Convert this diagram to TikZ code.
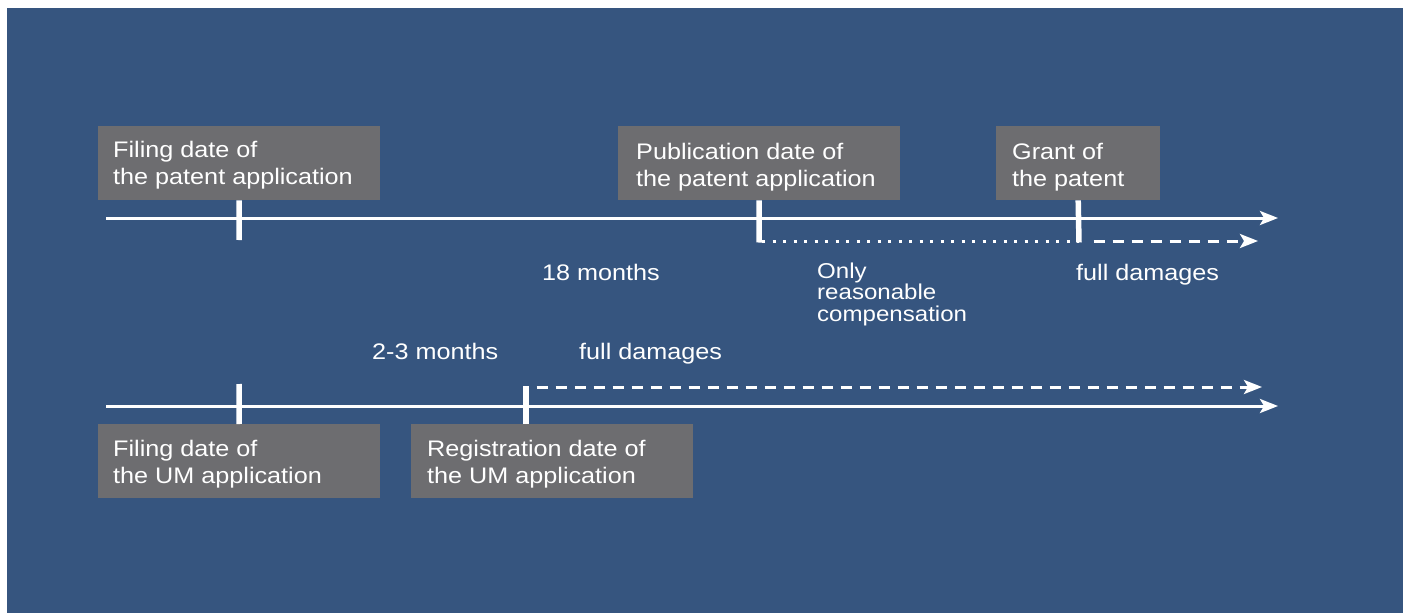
\documentclass[tikz,border=0pt]{standalone}
\usepackage{fontspec}
\setmainfont{Liberation Sans}[FakeStretch=1.12]
\usetikzlibrary{arrows.meta}
\definecolor{panelblue}{HTML}{36557F}
\definecolor{boxgray}{HTML}{6D6D70}
% stacked left-aligned lines; baseline of the block is that of the first line
\newcommand\linestack[1]{\vtop{\halign{##\hfil\cr#1\crcr}}}
\begin{document}
\begin{tikzpicture}[x=1pt,y=-1pt,
  box/.style={fill=boxgray, draw=none, anchor=north west, inner sep=0pt, minimum height=74pt},
  lbl/.style={text=white, anchor=base west, inner sep=0pt, font=\fontsize{22.5}{27}\selectfont},
  tightlbl/.style={lbl, font=\fontsize{21.5}{21.5}\selectfont},
  tip/.style={-{Stealth[length=18pt,width=14pt,inset=4pt]}},
  axisline/.style={draw=white, line width=3pt, tip},
  tickmark/.style={draw=white, line width=5.5pt},
  dashline/.style={draw=white, line width=3pt, dash pattern=on 11.5pt off 7.5pt, dash phase=11.5pt, tip},
  dotline/.style={draw=white, line width=3pt, dash pattern=on 3pt off 7.5pt},
]
\useasboundingbox (0,0) rectangle (1403,613);
\fill[panelblue] (7,8) rectangle (1403,613);

% ---- patent timeline ----
\node[box, minimum width=282pt] (filepat) at (98,126) {};
\node[box, minimum width=282pt] (pubpat)  at (618,126) {};
\node[box, minimum width=164pt] (grant)   at (996,126) {};
\node[lbl] (filepatt) at ([shift={(15,31)}]filepat.north west) {\linestack{Filing date of\cr the patent application}};
\node[lbl] (pubpatt)  at ([shift={(18,33)}]pubpat.north west)  {\linestack{Publication date of\cr the patent application}};
\node[lbl] (grantt)   at ([shift={(16,33)}]grant.north west)   {\linestack{Grant of\cr the patent}};

\coordinate (pa0) at (106,218);
\coordinate (pa1) at (1278,218);
\draw[axisline] (pa0) -- (pa1);

\coordinate (pt1) at (239,240);
\coordinate (pt2) at (759,242.5);
\coordinate (pt3) at (1079,242.5);
\draw[tickmark] (filepat.south) -- (pt1);
\draw[tickmark] (pubpat.south) -- (pt2);
\draw[tickmark] (grant.south) -- (pt3);

\coordinate (dot0) at (762,241);
\coordinate (dot1) at (1079,241);
\coordinate (dsh0) at (1086,241);
\coordinate (dsh1) at (1258,241);
\draw[dotline] (dot0) -- (dot1);
\draw[dashline] (dsh0) -- (dsh1);

\node[lbl] (m18) at (542,280) {18 months};
\node[tightlbl] (rc) at (817,278) {\linestack{Only\cr reasonable\cr compensation}};
\node[lbl] (fd1) at (1076,280) {full damages};

% ---- utility model timeline ----
\node[lbl] (m23) at (372,359) {2-3 months};
\node[lbl] (fd2) at (579,359) {full damages};

\coordinate (ua0) at (106,406);
\coordinate (ua1) at (1278,406);
\draw[axisline] (ua0) -- (ua1);

\node[box, minimum width=282pt] (fileum) at (98,424) {};
\node[box, minimum width=282pt] (regum)  at (411,424) {};
\node[lbl] (fileumt) at ([shift={(15,32)}]fileum.north west) {\linestack{Filing date of\cr the UM application}};
\node[lbl] (regumt)  at ([shift={(16,32)}]regum.north west)  {\linestack{Registration date of\cr the UM application}};

\coordinate (ut1) at (239,384);
\coordinate (ut2) at (526,385.5);
\coordinate (ut2b) at (526,424);
\draw[tickmark] (fileum.north) -- (ut1);
\draw[tickmark] (ut2b) -- (ut2);

\coordinate (ud0) at (529,387);
\coordinate (ud1) at (1262,387);
\draw[dashline] (ud0) -- (ud1);
\end{tikzpicture}
\end{document}
